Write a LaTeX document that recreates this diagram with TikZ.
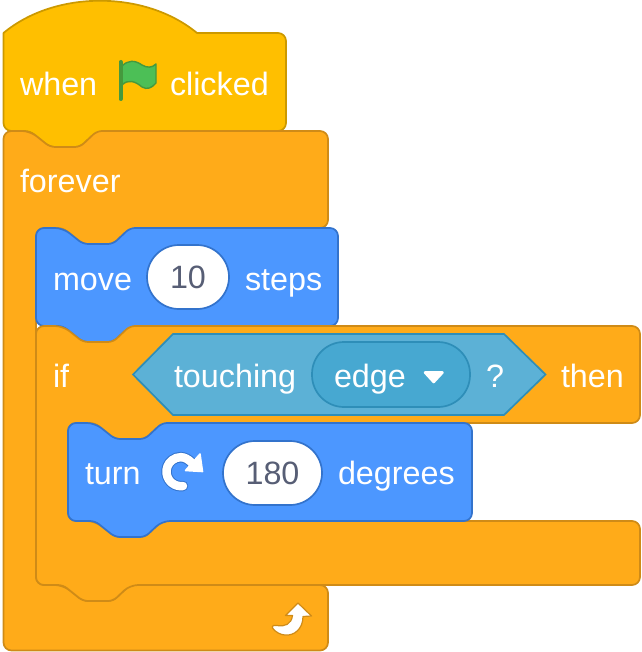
\documentclass[tikz,border=0pt]{standalone}
\usepackage{fontspec}
\setmainfont{Liberation Sans}
\definecolor{hatfill}{HTML}{FFBF00}
\definecolor{hatline}{HTML}{CC9900}
\definecolor{ctrlfill}{HTML}{FFAB19}
\definecolor{ctrlline}{HTML}{CF8B17}
\definecolor{motfill}{HTML}{4C97FF}
\definecolor{motline}{HTML}{3373CC}
\definecolor{sensfill}{HTML}{5CB1D6}
\definecolor{sensline}{HTML}{2E8EB8}
\definecolor{sensdark}{HTML}{47A8D1}
\definecolor{numtext}{HTML}{575E75}
\definecolor{flagfill}{HTML}{4CBF56}
\definecolor{flagline}{HTML}{45993D}
% notch: l-to-r and r-to-l, entered at its first corner
\def\tabLR{[rounded corners=5] -- ++(20,16) -- ++(30,0) -- ++(17,-16) [rounded corners=8]}
\def\tabRL{[rounded corners=5] -- ++(-17,16) -- ++(-30,0) -- ++(-20,-16) [rounded corners=8]}
\tikzset{
  x=1pt,y=-1pt,
  blockline/.style={line width=1.7pt,line join=round},
  hatblock/.style={blockline,draw=hatline,fill=hatfill},
  ctrlblock/.style={blockline,draw=ctrlline,fill=ctrlfill},
  motblock/.style={blockline,draw=motline,fill=motfill},
  lbl/.style={text=white,font=\fontsize{32.3}{36}\selectfont,anchor=base west,inner sep=0pt,outer sep=0pt},
  numpill/.style={draw=motline,fill=white,line width=1.7pt,minimum height=64pt,rounded corners=32pt,inner sep=0pt,outer sep=0pt,text=numtext,font=\fontsize{32.3}{36}\selectfont},
  ddpill/.style={draw=sensline,fill=sensdark,line width=1.7pt,minimum width=158pt,minimum height=65pt,rounded corners=32pt,inner sep=0pt,outer sep=0pt},
  hexblock/.style={draw=sensline,fill=sensfill,line width=1.7pt,line join=miter},
  iconwhite/.style={fill=white,line join=round},
}
\begin{document}
\begin{tikzpicture}
\useasboundingbox[fill=white] (0,0) rectangle (641,652);
% hat block
\draw[hatblock] (3.5,70) -- (3.5,33) .. controls (55,-10) and (145,-10) .. (197,33)
  [rounded corners=8] -- (286,33) -- (286,131) -- (97,131) \tabRL -- (3.5,131) -- cycle;
% forever block
\draw[ctrlblock,rounded corners=8] (3.5,131) -- (30,131) \tabLR -- (328,131) -- (328,228) -- (130,228) \tabRL
  -- (36,228) -- (36,585) -- (63,585) \tabLR -- (328,585) -- (328,650.5) -- (3.5,650.5) -- cycle;
% move block
\draw[motblock,rounded corners=8] (36,228) -- (63,228) \tabLR -- (338,228) -- (338,326) -- (130,326) \tabRL -- (36,326) -- cycle;
% if block
\draw[ctrlblock,rounded corners=8] (36,326) -- (63,326) \tabLR -- (640,326) -- (640,423) -- (162,423) \tabRL
  -- (68,423) -- (68,521) -- (95,521) \tabLR -- (640,521) -- (640,585) -- (130,585) \tabRL -- (36,585) -- cycle;
% turn block
\draw[motblock,rounded corners=8] (68,423) -- (95,423) \tabLR -- (472,423) -- (472,521) -- (162,521) \tabRL -- (68,521) -- cycle;
% predicate
\draw[hexblock] (133,374.5) -- (173,334) -- (504,334) -- (545.5,374.5) -- (504,415) -- (173,415) -- cycle;
\node[ddpill] (edgepill) at (391,374.5) {};
\draw[fill=white,draw=white,line width=2.6pt,line join=round] (425,372.5) -- (442.5,372.5) -- (433.7,382) -- cycle;
% labels
\node[lbl] (twhen) at (20,95.5) {when};
\node[lbl] (tclicked) at (170,95.5) {clicked};
\node[lbl] (tforever) at (20,192.5) {forever};
\node[lbl] (tmove) at (53,290) {move};
\node[numpill,minimum width=82pt] (tten) at (188,277) {10};
\node[lbl] (tsteps) at (245,290) {steps};
\node[lbl] (tif) at (53,387) {if};
\node[lbl] (ttouching) at (174,387) {touching};
\node[lbl] (tedge) at (334,387) {edge};
\node[lbl] (tq) at (486,387) {?};
\node[lbl] (tthen) at (561,387) {then};
\node[lbl] (tturn) at (85,484) {turn};
\node[numpill,minimum width=99pt] (tdeg) at (272.5,473) {180};
\node[lbl] (tdegrees) at (338,484) {degrees};
% green flag
\draw[fill=flagfill,draw=flagline,line width=1.4pt,line join=round] (122,66)
  .. controls (128,60) and (135,60) .. (142,65) .. controls (147,68) and (152,68) .. (156,64)
  -- (156,83) .. controls (152,88) and (147,90) .. (142,87) .. controls (135,81) and (128,79) .. (122,85) -- cycle;
\draw[flagline,line width=4pt,line cap=round] (120.5,62) -- (120.5,99);
% turn icon
\draw[motline,line width=10.5pt,line cap=round] (183,486) arc[start angle=82,end angle=270,radius=14.5] .. controls (185,457.5) and (188,459) .. (192,463);
\draw[white,line width=8.5pt,line cap=round] (183,486) arc[start angle=82,end angle=270,radius=14.5] .. controls (185,457.5) and (188,459) .. (192,463);
\draw[iconwhite,draw=white,line width=1.6pt] (200,454) -- (202.5,471.5) -- (185.5,470.5) -- cycle;
% repeat icon
\draw[iconwhite,draw=ctrlline,line width=1.2pt] (298,603) -- (311.5,616) -- (303,616.5)
  .. controls (303,629) and (294,636) .. (285,635) .. controls (281,635) and (275,632) .. (272.5,628)
  .. controls (271.5,625.5) and (275,624.5) .. (277,625.5) .. controls (285,627) and (291.5,624) .. (292.5,615.5)
  -- (285.5,615.5) -- cycle;
\end{tikzpicture}
\end{document}
